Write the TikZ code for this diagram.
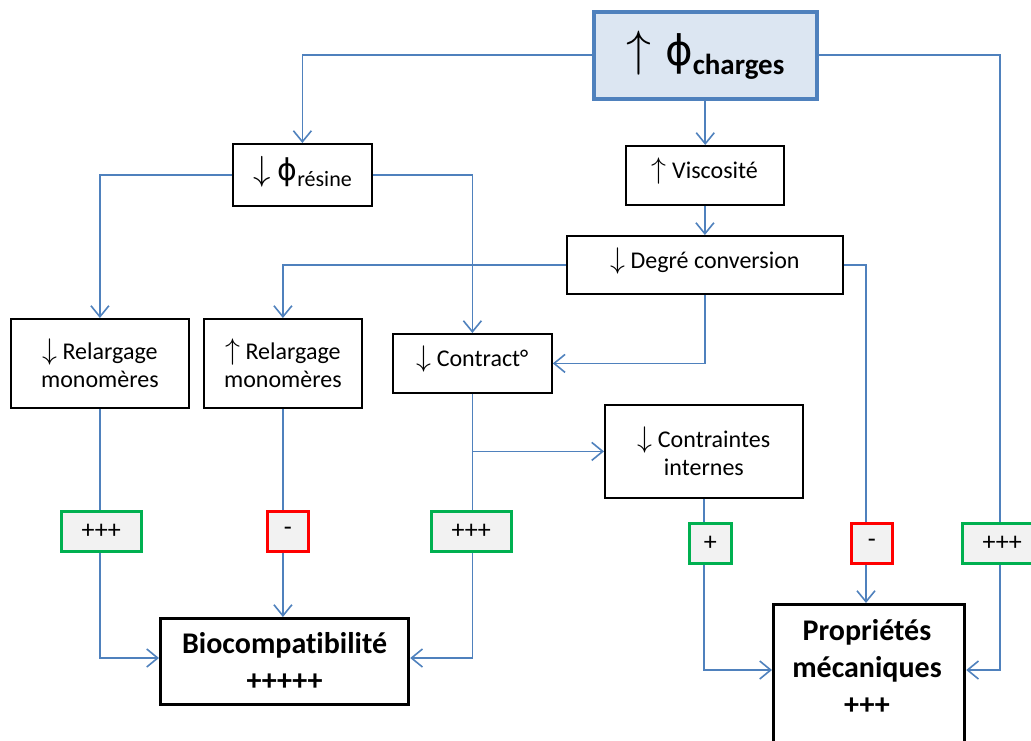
\documentclass[tikz,border=0pt]{standalone}
\usepackage{graphicx}
\usepackage{fontspec}
\setmainfont{Carlito}[Ligatures=NoCommon]
\newfontfamily\symf{DejaVu Sans}
\usetikzlibrary{arrows.meta,calc}
\definecolor{lineblue}{HTML}{4F81BD}
\definecolor{chfill}{HTML}{DCE6F2}
\definecolor{sgreen}{HTML}{00B050}
\definecolor{sred}{HTML}{FF0000}
\definecolor{sfill}{HTML}{F2F2F2}
\newcommand{\dn}{\scalebox{1.2}{$\downarrow$}}
\newcommand{\upa}{\scalebox{1.2}{$\uparrow$}}
\tikzset{
  box/.style={draw=black, line width=1.8pt, fill=white, anchor=north west, align=center, inner sep=2pt, font=\fontsize{24}{28}\selectfont},
  one/.style={text depth=14pt},
  bigbox/.style={draw=black, line width=3.2pt, fill=white, anchor=north west, align=center, inner sep=2pt, font=\fontsize{30}{37}\selectfont\bfseries},
  gsign/.style={draw=sgreen, line width=2.6pt, fill=sfill, anchor=north west, inner sep=0pt, font=\fontsize{26}{26}\selectfont},
  rsign/.style={gsign, draw=sred},
  conn/.style={draw=lineblue, line width=1.6pt},
  arr/.style={conn, -{Straight Barb[length=11pt,width=18pt,line width=1.6pt]}},
}
\begin{document}
\begin{tikzpicture}[x=1pt,y=-1pt]
\useasboundingbox (0,0) rectangle (1031,740);
\clip (0,0) rectangle (1031,740);
% nodes
\node[draw=lineblue, line width=3.5pt, fill=chfill, anchor=north west, minimum width=223pt, minimum height=87pt, inner sep=0pt, font=\fontsize{24}{24}\selectfont] (ch) at (592,10) {\scalebox{2.0}{$\uparrow$}\hspace{14pt}{\symf\fontsize{42}{44}\selectfont ϕ}\raisebox{-9pt}{\fontsize{29}{32}\selectfont\bfseries charges}};
\node[box, one, minimum width=139pt, minimum height=62pt] (res) at (232,143) {\scalebox{1.4}{$\downarrow$}\hspace{7pt}{\symf\fontsize{30}{30}\selectfont ϕ}\raisebox{-6pt}{\fontsize{22}{22}\selectfont résine}};
\node[box, one, minimum width=158pt, minimum height=59pt] (vis) at (625,145) {\upa\ Viscosité};
\node[box, one, minimum width=276pt, minimum height=58pt] (deg) at (566,235) {\dn\ Degré conversion};
\node[box, minimum width=178pt, minimum height=89pt] (r1) at (10,318) {\dn\ Relargage\\monomères};
\node[box, minimum width=158pt, minimum height=89pt] (r2) at (203,318) {\upa\ Relargage\\monomères};
\node[box, one, minimum width=159pt, minimum height=59pt] (con) at (392,333) {\dn\ Contract°};
\node[box, minimum width=198pt, minimum height=93pt] (cti) at (604,404) {\dn\ Contraintes\\internes};
\node[bigbox, minimum width=248pt, minimum height=86pt] (bio) at (159,617) {Biocompatibilité\\+++++};
\node[bigbox, minimum width=191pt, minimum height=150pt, anchor=north west] (prop) at (772,603) {};
\node[font=\fontsize{30}{37}\selectfont\bfseries, align=center, anchor=center] (proptext) at (867,667) {Propriétés\\mécaniques\\+++};
\node[gsign, minimum width=80pt, minimum height=40pt] (s1) at (60,510) {+++};
\node[rsign, minimum width=41pt, minimum height=40pt] (s2) at (266,510) {-};
\node[gsign, minimum width=80pt, minimum height=40pt] (s3) at (430,510) {+++};
\node[gsign, minimum width=42pt, minimum height=40pt] (s4) at (688,522) {+};
\node[rsign, minimum width=41pt, minimum height=40pt] (s5) at (850,522) {-};
\node[gsign, minimum width=80pt, minimum height=40pt] (s6) at (961,522) {+++};
\coordinate (ypm) at (0,670);
\coordinate (ybio) at (0,658);
% connectors
\draw[arr] (ch.west) -| (res.north);
\draw[arr] (ch.south) -- (ch.south |- vis.north);
\draw[conn] (ch.east) -| ([xshift=39pt]s6.north west);
\draw[arr] ([xshift=39pt]s6.south west) |- (prop.east |- ypm);
\draw[arr] (vis.south) -- (vis.south |- deg.north);
\draw[arr] (res.west) -| (r1.north);
\draw[arr] (res.east) -| (con.north);
\draw[arr] (deg.west) -| (r2.north);
\draw[arr] (deg.south) |- (con.east);
\draw[conn] (deg.east) -| ([xshift=16pt]s5.north west);
\draw[arr] ([xshift=16pt]s5.south west) -- ([xshift=16pt]s5.south west |- prop.north);
\draw[conn] (r1.south) -- (r1.south |- s1.north);
\draw[arr] (r1.south |- s1.south) |- (bio.west |- ybio);
\draw[conn] (r2.south) -- (r2.south |- s2.north);
\draw[arr] (r2.south |- s2.south) -- (r2.south |- bio.north);
\draw[conn] (con.south) -- (con.south |- s3.north);
\draw[arr] (con.south |- cti.west) -- (cti.west);
\draw[arr] (con.south |- s3.south) |- (bio.east |- ybio);
\draw[conn] (cti.south) -- (cti.south |- s4.north);
\draw[arr] (cti.south |- s4.south) |- (prop.west |- ypm);
\end{tikzpicture}
\end{document}
